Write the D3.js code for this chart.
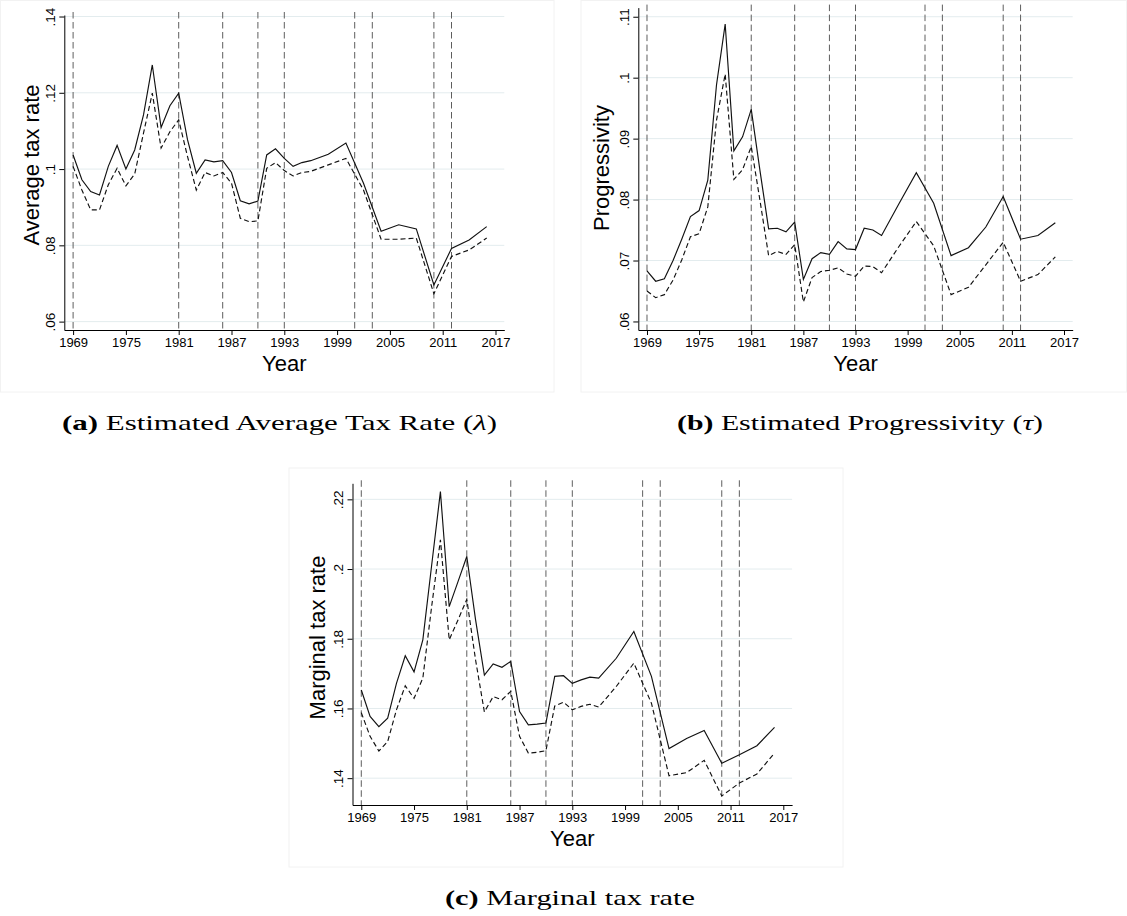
<!DOCTYPE html>
<html>
<head>
<meta charset="utf-8">
<script src="https://cdn.jsdelivr.net/npm/d3@7"></script>
<style>
body { margin: 0; background: #fff; }
svg text { font-family: "Liberation Sans", Arial, sans-serif; }
</style>
</head>
<body>
<div id="fig"></div>
<script>
// survey years (annual to 1996, then every other year)
let years = [1969, 1970, 1971, 1972, 1973, 1974, 1975, 1976, 1977, 1978,
             1979, 1980, 1981, 1982, 1983, 1984, 1985, 1986, 1987, 1988,
             1989, 1990, 1991, 1992, 1993, 1994, 1995, 1996, 1998, 2000,
             2002, 2004, 2006, 2008, 2010, 2012, 2014, 2016];

let atrSolid = [.1037, .0972, .0941, .0932, .1007, .1062, .1000, .1050, .1142, .1273,
                .1109, .1166, .1199, .1077, .0989, .1024, .1019, .1022, .0991, .0917,
                .0909, .0916, .1037, .1053, .1028, .1007, .1017, .1022, .1039, .1068,
                .0963, .0837, .0854, .0843, .0696, .0792, .0814, .0849];
let atrDashed = [.1007, .0945, .0893, .0893, .0959, .1002, .0956, .0987, .1094, .1199,
                 .1055, .1098, .1129, .1033, .0945, .0991, .0982, .0991, .0963, .0871,
                 .0862, .0864, .1002, .1017, .0996, .0982, .0991, .0994, .1011, .1028,
                 .0945, .0816, .0816, .0819, .0673, .0771, .0788, .0819];

let progSolid = [.0683, .0666, .0670, .0700, .0735, .0772, .0782, .0832, .0988, .1088,
                 .0880, .0903, .0948, .0848, .0752, .0753, .0747, .0763, .0669, .0703,
                 .0713, .0710, .0731, .0719, .0718, .0753, .0750, .0741, .0793, .0844,
                 .0794, .0708, .0721, .0755, .0805, .0735, .0741, .0762];
let progDashed = [.0650, .0639, .0644, .0668, .0701, .0739, .0744, .0788, .0930, .1006,
                  .0833, .0849, .0887, .0799, .0708, .0715, .0710, .0726, .0632, .0672,
                  .0682, .0684, .0688, .0678, .0674, .0691, .0690, .0680, .0723, .0764,
                  .0724, .0644, .0656, .0693, .0730, .0666, .0677, .0706];

let mtrSolid = [.1653, .1577, .1548, .1572, .1672, .1751, .1705, .1797, .2010, .2222,
                .1892, .1964, .2036, .1854, .1696, .1728, .1718, .1735, .1591, .1553,
                .1555, .1558, .1692, .1694, .1672, .1682, .1690, .1687, .1744, .1821,
                .1692, .1485, .1514, .1537, .1443, .1467, .1493, .1546];
let mtrDashed = [.1588, .1520, .1478, .1505, .1596, .1665, .1629, .1687, .1892, .2084,
                 .1797, .1854, .1913, .1739, .1590, .1634, .1625, .1649, .1520, .1472,
                 .1474, .1479, .1607, .1618, .1596, .1606, .1612, .1604, .1663, .1730,
                 .1615, .1407, .1416, .1451, .1349, .1386, .1412, .1472];

let refYears = [1969, 1981, 1986, 1990, 1993, 2001, 2003, 2010, 2012];
let xTicks = [1969, 1975, 1981, 1987, 1993, 1999, 2005, 2011, 2017];
let atrTicks = [0.06, 0.08, 0.10, 0.12, 0.14];
let progTicks = [0.06, 0.07, 0.08, 0.09, 0.10, 0.11];
let mtrTicks = [0.14, 0.16, 0.18, 0.20, 0.22];

let svg = d3.select("#fig").append("svg")
    .attr("width", 1127)
    .attr("height", 916);

let panels = [
    {solid: atrSolid, dashed: atrDashed, ticks: atrTicks, ylabel: "Average tax rate",
     yDomain: [0.0578, 0.1404], frame: [0.5, 0.5, 554, 392],
     left: 64.3, right: 504.3, top: 15, bottom: 330, titleOff: 25.5, titleY: 165},
    {solid: progSolid, dashed: progDashed, ticks: progTicks, ylabel: "Progressivity",
     yDomain: [0.0586, 0.1115], frame: [581, 0.5, 1126.5, 392],
     left: 638.3, right: 1072.7, top: 7.6, bottom: 330, titleOff: 29, titleY: 168},
    {solid: mtrSolid, dashed: mtrDashed, ticks: mtrTicks, ylabel: "Marginal tax rate",
     yDomain: [0.1323, 0.2246], frame: [289, 468, 843, 867],
     left: 352.5, right: 792.1, top: 483.3, bottom: 805, titleOff: 27.4, titleY: 637.5}
];

let captions = [
    {tag: "(a)", text: " Estimated Average Tax Rate (", sym: "λ", x: 62, y: 430, w: 435},
    {tag: "(b)", text: " Estimated Progressivity (", sym: "τ", x: 677, y: 430, w: 366},
    {tag: "(c)", text: " Marginal tax rate", sym: null, x: 445, y: 905, w: 250}
];

let yFormat = d => "." + d3.format(".2f")(d).split(".")[1].replace(/0$/, "");

function drawPanel(p) {
    let g = svg.append("g");

    g.append("rect")
        .attr("x", p.frame[0]).attr("y", p.frame[1])
        .attr("width", p.frame[2] - p.frame[0])
        .attr("height", p.frame[3] - p.frame[1])
        .attr("fill", "none")
        .attr("stroke", "#f2f2f2");

    let x = d3.scaleLinear().domain([1968, 2018]).range([p.left, p.right]);
    let y = d3.scaleLinear().domain(p.yDomain).range([p.bottom, p.top]);

    // horizontal grid
    g.append("g").selectAll("line").data(p.ticks).enter()
        .append("line")
        .attr("x1", p.left).attr("x2", p.right)
        .attr("y1", d => y(d)).attr("y2", d => y(d))
        .attr("stroke", "#e3ecee")
        .attr("stroke-width", 1);

    // reference years
    g.append("g").selectAll("line").data(refYears).enter()
        .append("line")
        .attr("x1", d => x(d)).attr("x2", d => x(d))
        .attr("y1", p.top - 3).attr("y2", p.bottom)
        .attr("stroke", "#5e5e5e")
        .attr("stroke-width", 1)
        .attr("stroke-dasharray", "6.5,3.5");

    let line = d3.line()
        .x((d, i) => x(years[i]))
        .y(d => y(d));

    g.append("path").datum(p.dashed)
        .attr("d", line)
        .attr("fill", "none")
        .attr("stroke", "#111")
        .attr("stroke-width", 1.15)
        .attr("stroke-dasharray", "5,3");

    g.append("path").datum(p.solid)
        .attr("d", line)
        .attr("fill", "none")
        .attr("stroke", "#111")
        .attr("stroke-width", 1.15);

    // axes
    let xAxis = g.append("g")
        .attr("transform", `translate(0, ${p.bottom})`)
        .call(d3.axisBottom(x).tickValues(xTicks).tickSize(5).tickSizeOuter(0)
            .tickPadding(3).tickFormat(d3.format("d")));
    xAxis.attr("font-size", 13).attr("font-family", null).attr("color", "#000");

    let yAxis = g.append("g")
        .attr("transform", `translate(${p.left}, 0)`)
        .call(d3.axisLeft(y).tickValues(p.ticks).tickSize(5).tickSizeOuter(0)
            .tickFormat(yFormat));
    yAxis.attr("font-size", 13.5).attr("font-family", null).attr("color", "#000");
    yAxis.selectAll(".tick text")
        .attr("x", 0)
        .attr("dy", 0)
        .attr("text-anchor", "middle")
        .attr("transform", "translate(-9.3, 0) rotate(-90)");

    g.append("text")
        .attr("transform", `translate(${p.left - p.titleOff}, ${p.titleY}) rotate(-90)`)
        .attr("text-anchor", "middle")
        .attr("font-size", 22)
        .attr("fill", "#000")
        .text(p.ylabel);

    g.append("text")
        .attr("x", (p.left + p.right) / 2)
        .attr("y", p.bottom + 40.5)
        .attr("text-anchor", "middle")
        .attr("font-size", 22)
        .attr("fill", "#000")
        .text("Year");
}

panels.forEach(drawPanel);

captions.forEach(function(c) {
    let t = svg.append("text")
        .attr("x", c.x)
        .attr("y", c.y)
        .attr("font-size", 22)
        .attr("textLength", c.w)
        .attr("lengthAdjust", "spacingAndGlyphs")
        .style("font-family", "'Liberation Serif', 'Times New Roman', serif")
        .attr("fill", "#000");
    t.append("tspan").attr("font-weight", "bold").text(c.tag);
    t.append("tspan").text(c.text);
    if (c.sym) {
        t.append("tspan").attr("font-style", "italic").text(c.sym);
        t.append("tspan").text(")");
    }
});
</script>
</body>
</html>
